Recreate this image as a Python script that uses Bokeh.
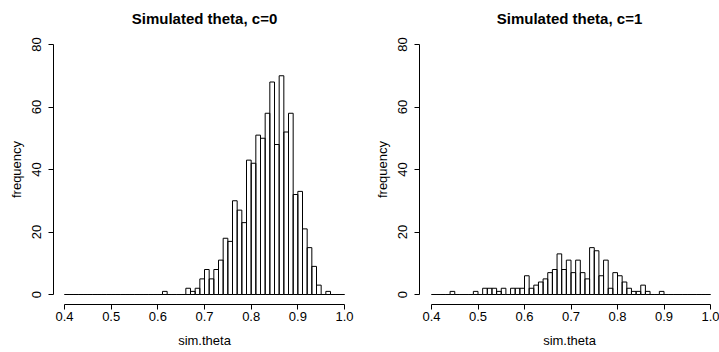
from bokeh.plotting import figure
from bokeh.layouts import row
from bokeh.models import FixedTicker, PrintfTickFormatter, ColumnDataSource, Range1d
from bokeh.embed import file_html
from bokeh.resources import INLINE

# bin edges: 0.40 .. 1.00 in steps of 0.01 (60 bins)
bin_start = 0.40
bin_width = 0.01
n_bins = 60

counts_c0 = [0, 0, 0, 0, 0, 0, 0, 0, 0, 0,
             0, 0, 0, 0, 0, 0, 0, 0, 0, 0,
             0, 1, 0, 0, 0, 0, 2, 1, 2, 5,
             8, 5, 8, 11, 18, 17, 30, 27, 23, 43,
             42, 51, 50, 58, 68, 48, 70, 52, 58, 32,
             33, 21, 15, 9, 3, 0, 1, 0, 0, 0]

counts_c1 = [0, 0, 0, 0, 1, 0, 0, 0, 0, 1,
             0, 2, 2, 2, 1, 2, 0, 2, 2, 2,
             6, 2, 3, 4, 5, 7, 8, 13, 8, 11,
             7, 11, 7, 5, 15, 14, 6, 11, 2, 7,
             6, 4, 2, 1, 1, 3, 1, 0, 0, 1,
             0, 0, 0, 0, 0, 0, 0, 0, 0, 0]

titles = ["Simulated theta, c=0", "Simulated theta, c=1"]
x_ticks = [0.4, 0.5, 0.6, 0.7, 0.8, 0.9, 1.0]
y_ticks = [0, 20, 40, 60, 80]
x_label = "sim.theta"
y_label = "frequency"

FONT = "Liberation Sans"


def make_panel(counts, title, width, border_left, border_right, xr):
    lefts = [round(bin_start + bin_width * i, 2) for i in range(n_bins)]
    rights = [round(l + bin_width, 2) for l in lefts]
    src = ColumnDataSource(dict(left=lefts, right=rights,
                                top=counts, bottom=[0] * n_bins))
    p = figure(width=width, height=352, output_backend="svg",
               toolbar_location=None,
               x_range=Range1d(*xr), y_range=Range1d(-3.2, 83.2),
               min_border_left=border_left, min_border_right=border_right,
               min_border_top=34, min_border_bottom=48)
    p.quad(left="left", right="right", top="top", bottom="bottom",
           source=src, fill_color=None, line_color="black", line_width=1)
    p.title.text = title
    p.title.align = "center"
    p.title.text_font = FONT
    p.title.text_font_size = "15px"
    p.title.text_font_style = "bold"
    p.title.text_color = "black"
    p.title.standoff = 15
    p.outline_line_color = None
    p.grid.visible = False
    p.background_fill_color = "white"
    p.border_fill_color = "white"

    xa = p.xaxis[0]
    xa.ticker = FixedTicker(ticks=x_ticks)
    xa.formatter = PrintfTickFormatter(format="%.1f")
    xa.bounds = (x_ticks[0], x_ticks[-1])
    xa.axis_label = x_label

    ya = p.yaxis[0]
    ya.ticker = FixedTicker(ticks=y_ticks)
    ya.bounds = (y_ticks[0], y_ticks[-1])
    ya.axis_label = y_label
    ya.major_label_orientation = "vertical"

    for ax in (xa, ya):
        ax.minor_tick_line_color = None
        ax.major_tick_in = 0
        ax.major_tick_out = 5
        ax.axis_line_color = "black"
        ax.major_tick_line_color = "black"
        ax.major_label_text_font = FONT
        ax.major_label_text_font_size = "13px"
        ax.major_label_text_color = "black"
        ax.axis_label_text_font = FONT
        ax.axis_label_text_font_size = "13px"
        ax.axis_label_text_font_style = "normal"
        ax.axis_label_text_color = "black"
    xa.major_label_standoff = 2
    xa.axis_label_standoff = 9
    ya.major_label_standoff = 8
    ya.axis_label_standoff = 5
    return p


p1 = make_panel(counts_c0, titles[0], 360, 53, 5, (0.37643, 1.02357))
p2 = make_panel(counts_c1, titles[1], 359, 59, 0, (0.37419, 1.019355))

layout = row(p1, p2)
open("out.html", "w").write(file_html(layout, INLINE))
